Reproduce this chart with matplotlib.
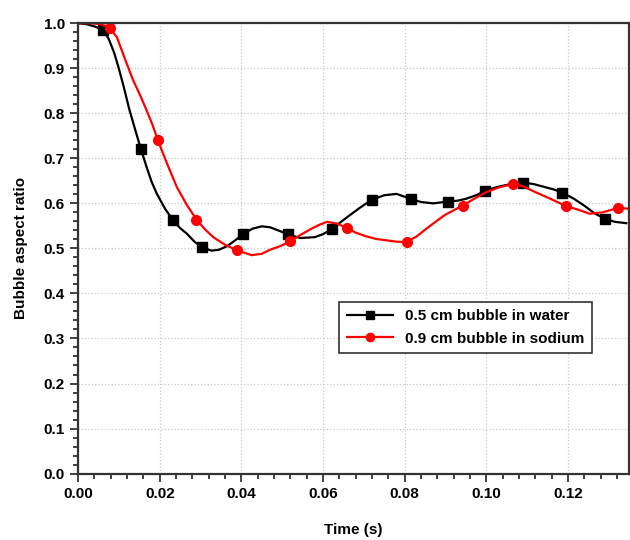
#
# -*- coding: utf-8 -*-
#

import matplotlib
matplotlib.use('Agg')
import matplotlib.pyplot as plt
from matplotlib.ticker import AutoMinorLocator, MultipleLocator

# 0.5 cm bubble in water
t_water = [0.0, 0.002, 0.004, 0.0062, 0.0075, 0.0088, 0.0099, 0.0112, 0.0125,
           0.014, 0.0154, 0.0168, 0.018, 0.0193, 0.0213, 0.0233, 0.025, 0.0266,
           0.0285, 0.0304, 0.0327, 0.0345, 0.0365, 0.0385, 0.0405, 0.0428,
           0.045, 0.047, 0.049, 0.0515, 0.0544, 0.058, 0.0601, 0.0621, 0.064,
           0.066, 0.069, 0.0719, 0.075, 0.078, 0.0815, 0.084, 0.087, 0.0906,
           0.093, 0.095, 0.0975, 0.0996, 0.1025, 0.105, 0.107, 0.109, 0.1115,
           0.114, 0.1165, 0.1186, 0.1215, 0.124, 0.1265, 0.129, 0.1315, 0.1343]
r_water = [1.0, 0.998, 0.993, 0.985, 0.965, 0.935, 0.902, 0.858, 0.81,
           0.763, 0.72, 0.68, 0.648, 0.621, 0.588, 0.562, 0.545, 0.533,
           0.515, 0.502, 0.495, 0.497, 0.505, 0.518, 0.533, 0.544,
           0.549, 0.547, 0.540, 0.531, 0.523, 0.525, 0.532, 0.543, 0.556,
           0.570, 0.590, 0.608, 0.618, 0.621, 0.610, 0.603, 0.600, 0.604,
           0.606, 0.610, 0.618, 0.627, 0.636, 0.641, 0.645, 0.646, 0.643,
           0.637, 0.631, 0.624, 0.610, 0.595, 0.578, 0.566, 0.559, 0.556]
mk_water = [3, 10, 15, 19, 24, 29, 33, 37, 40, 43, 47, 51, 55, 59]

# 0.9 cm bubble in sodium
t_sodium = [0.0, 0.003, 0.0055, 0.0077, 0.0095, 0.0115, 0.0135, 0.0152, 0.0168,
            0.0182, 0.0195, 0.0218, 0.0242, 0.0266, 0.029, 0.031, 0.0331,
            0.036, 0.0389, 0.0425, 0.045, 0.047, 0.0495, 0.052, 0.0545, 0.057,
            0.059, 0.061, 0.0635, 0.0658, 0.068, 0.0705, 0.073, 0.0755, 0.078,
            0.0805, 0.083, 0.0855, 0.088, 0.09, 0.0942, 0.097, 0.1, 0.1033,
            0.1066, 0.109, 0.112, 0.116, 0.1195, 0.1225, 0.1253, 0.1285,
            0.1323, 0.135]
r_sodium = [1.0, 1.0, 0.998, 0.99, 0.969, 0.92, 0.873, 0.84, 0.806,
            0.775, 0.741, 0.688, 0.636, 0.597, 0.564, 0.543, 0.525,
            0.508, 0.496, 0.485, 0.488, 0.497, 0.505, 0.516, 0.53, 0.543,
            0.552, 0.559, 0.555, 0.545, 0.535, 0.527, 0.521, 0.518, 0.515,
            0.514, 0.527, 0.545, 0.562, 0.575, 0.595, 0.610, 0.625, 0.636,
            0.643, 0.638, 0.625, 0.609, 0.594, 0.586, 0.577, 0.580,
            0.590, 0.588]
mk_sodium = [3, 10, 14, 18, 23, 29, 35, 40, 44, 48, 52]

plt.rcParams['font.family'] = 'Liberation Sans'
plt.rcParams['font.weight'] = 'bold'

fig = plt.figure(figsize=(6.3, 5.4), dpi=100)
ax = fig.add_axes([0.124, 0.123, 0.874, 0.834])

ax.plot(t_water, r_water, color='black', linewidth=1.6, marker='s',
        markersize=6.5, markevery=mk_water, label='0.5 cm bubble in water')
ax.plot(t_sodium, r_sodium, color='red', linewidth=1.6, marker='o',
        markersize=7, markevery=mk_sodium, label='0.9 cm bubble in sodium')

ax.set_xlim(0, 0.1349)
ax.set_ylim(0, 1.0)
ax.xaxis.set_major_locator(MultipleLocator(0.02))
ax.yaxis.set_major_locator(MultipleLocator(0.1))
ax.xaxis.set_minor_locator(AutoMinorLocator(5))
ax.yaxis.set_minor_locator(AutoMinorLocator(5))
ax.xaxis.set_major_formatter(plt.FormatStrFormatter('%.2f'))
ax.yaxis.set_major_formatter(plt.FormatStrFormatter('%.1f'))

ax.grid(True, which='major', color='#c8c8c8', linestyle=':', linewidth=0.9)
ax.tick_params(which='both', direction='out', top=False, right=False,
               width=1.3, color='#333333', labelsize=11)
ax.tick_params(which='major', length=6)
ax.tick_params(which='minor', length=3.5)
for s in ax.spines.values():
    s.set_linewidth(1.6)
    s.set_color('#333333')

ax.set_xlabel('Time (s)', fontsize=11, fontweight='bold', labelpad=16)
ax.set_ylabel('Bubble aspect ratio', fontsize=11, fontweight='bold', labelpad=11)

leg = ax.legend(loc='lower left', bbox_to_anchor=(0.474, 0.267), fontsize=11,
                fancybox=False, framealpha=1, edgecolor='#333333',
                handlelength=3.0, borderpad=0.5, labelspacing=0.55,
                borderaxespad=0, markerscale=0.85)
leg.get_frame().set_linewidth(1.2)

plt.savefig('out.png')
